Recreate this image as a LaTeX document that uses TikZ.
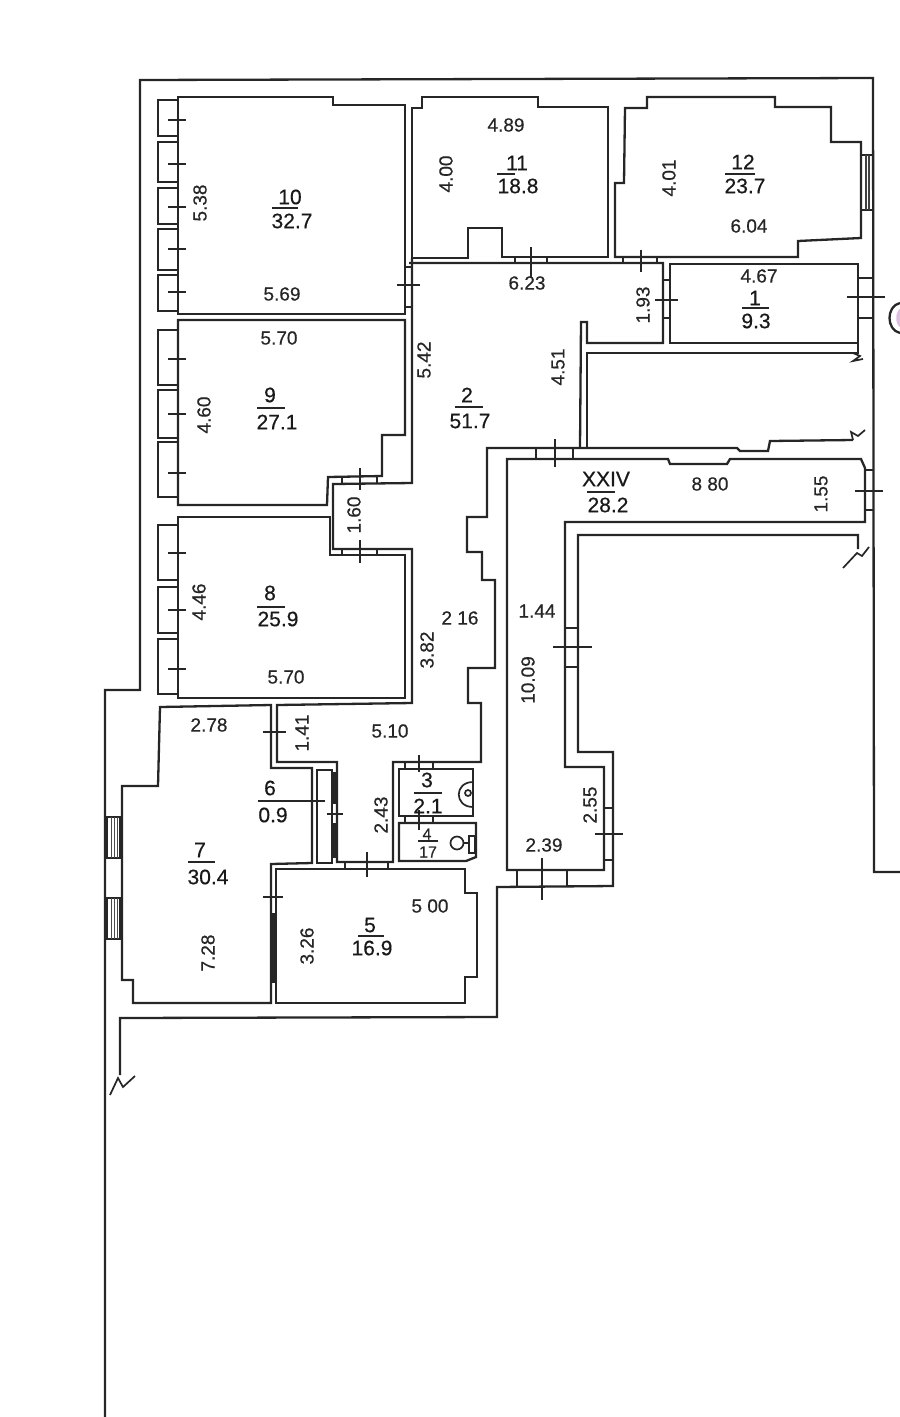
\documentclass[tikz,border=0pt]{standalone}
\usepackage{fontspec}
\setmainfont[FakeBold=0.5]{Liberation Sans}
\tikzset{
  wall/.style={line width=2.3pt, black!85, line join=miter},
  fine/.style={line width=1.7pt, black!85},
  tickmark/.style={line width=1.7pt, black!85},
  dimtxt/.style={inner sep=0pt, text=black!85, font=\fontsize{19}{21}\selectfont},
  roomtxt/.style={inner sep=0pt, text=black!90, font=\fontsize{21}{23}\selectfont},
  smalltxt/.style={inner sep=0pt, text=black!85, font=\fontsize{16}{18}\selectfont}
}
\begin{document}
\begin{tikzpicture}[x=1pt,y=-1pt]
  \useasboundingbox (0,0) rectangle (900,1417);
  % Outer walls
  \draw[wall] (105,1417) -- (105,690) -- (140,690) -- (140,80) -- (873,78) -- (874,872) -- (900,872);
  \draw[wall] (120,1075) -- (120,1018) -- (497,1017) -- (497,887) -- (613,886) -- (613,752) -- (578,752)
    -- (578,535) -- (858,535) -- (858,549);
  % Breaks
  \draw[fine] (843,568) -- (857,553) -- (862,556) -- (869,547);
  \draw[fine] (110,1095) -- (118,1078) -- (123,1087) -- (135,1076);
  \draw[fine] (853,440) -- (851,432) -- (858,436) -- (865,430);
  \draw[fine] (853,353) -- (860,356) -- (853,361) -- (863,359);
  % Rooms
  \draw[wall] (178,97) -- (333,97) -- (333,105) -- (405,105) -- (405,314) -- (178,314) -- cycle; % 10
  \draw[wall] (178,320) -- (405,320) -- (405,435) -- (382,435) -- (382,476) -- (328,477) -- (327,505) -- (178,505) -- cycle; % 9
  \draw[wall] (178,517) -- (330,517) -- (330,555) -- (405,555) -- (405,698) -- (178,698) -- cycle; % 8
  \draw[wall] (412,108) -- (422,108) -- (422,97) -- (538,97) -- (538,107) -- (608,107) -- (608,257)
    -- (502,257) -- (502,228) -- (468,228) -- (468,258) -- (412,258) -- cycle; % 11
  \draw[wall] (625,108) -- (647,108) -- (647,97) -- (775,97) -- (775,107) -- (831,107) -- (831,142) -- (861,142)
    -- (861,238) -- (798,241) -- (798,257) -- (615,257) -- (615,183) -- (624,183) -- cycle; % 12
  \draw[wall] (670,264) -- (858,264) -- (858,343) -- (670,343) -- cycle; % 1
  \draw[wall] (507,459) -- (668,459) -- (670,464) -- (727,464) -- (730,459) -- (861,459) -- (865,468) -- (865,522) -- (565,522)
    -- (565,767) -- (604,767) -- (604,870) -- (507,870) -- cycle; % XXIV
  \draw[wall] (160,707) -- (271,705) -- (271,768) -- (312,768) -- (312,863) -- (271,864) -- (271,1003) -- (133,1003)
    -- (133,980) -- (122,980) -- (122,786) -- (158,786) -- cycle; % 7
  \draw[wall] (276,869) -- (465,869) -- (465,893) -- (477,893) -- (477,977) -- (465,977) -- (465,1003) -- (276,1003) -- cycle; % 5
  \draw[wall] (399,769) -- (473,769) -- (473,816) -- (399,816) -- cycle; % 3
  \draw[wall] (399,823) -- (476,823) -- (476,857) -- (466,861) -- (399,861) -- cycle; % 4
  \draw[wall] (317,770) -- (332,770) -- (332,863) -- (317,863) -- cycle; % 6
  % Corridor 2
  \draw[wall] (412,258) -- (412,483) -- (333,484) -- (333,549) -- (412,549) -- (412,703) -- (277,705) -- (277,762)
    -- (337,762) -- (337,862) -- (393,862) -- (393,762) -- (481,762) -- (481,703) -- (468,703) -- (468,668)
    -- (495,668) -- (495,580) -- (482,580) -- (482,552) -- (467,552) -- (467,517) -- (487,517) -- (487,448)
    -- (737,448) -- (740,451) -- (768,451) -- (770,441) -- (853,440);
  \draw[wall] (409,263) -- (663,263) -- (663,343) -- (587,343) -- (587,322) -- (581,322) -- (580,448);
  \draw[wall] (587,447) -- (587,353) -- (858,353) -- (858,343);
  % Thick partitions
  \draw[line width=4.5pt, black!85] (334.5,772) -- (334.5,804) (334.5,823) -- (334.5,858);
  \draw[line width=4pt, black!85] (273.5,913) -- (273.5,983);
  % Door jambs
  \foreach \a/\b/\c in {515/257/263, 547/257/263, 623/257/263, 657/257/263, 536/448/459, 573/448/459, 342/476/484,
    377/476/484, 342/549/555, 377/549/555, 345/862/868, 388/862/868, 405/763/769, 433/763/769, 405/816/823, 433/816/823,
    517/870/887, 567/870/887}
    \draw[fine] (\a,\b) -- (\a,\c);
  \foreach \a/\b/\c in {267/405/412, 307/405/412, 280/663/670, 318/663/670, 278/858/873, 318/858/873, 470/865/873,
    510/865/873, 628/565/578, 667/565/578, 808/604/613, 860/604/613, 155/862/873, 210/862/873}
    \draw[fine] (\b,\a) -- (\c,\a);
  % Left bays
  \foreach \a/\b in {100/136, 142/182, 188/224, 229/270, 275/311, 330/385, 390/438, 442/497, 525/580, 587/633, 639/694}
    \draw[wall] (178,\a) -- (158,\a) -- (158,\b) -- (178,\b);
  % Windows
  \foreach \a/\b in {817/858, 898/939} {
    \draw[fine] (107,\a) rectangle (120,\b);
    \draw[line width=1pt, black!70] (111,\a) -- (111,\b) (114,\a) -- (114,\b) (117,\a) -- (117,\b);
  }
  \draw[line width=1.2pt, black!75] (866,155) -- (866,210) (869,155) -- (869,210);
  % Ticks on openings
  \foreach \a/\b/\c in {120/168/186, 164/168/186, 207/168/186, 249/168/186, 292/168/186, 359/168/186, 414/168/186,
    473/168/186, 553/168/186, 610/168/186, 669/168/186, 285/397/420, 300/655/678, 297/847/885, 491/855/883, 647/553/592,
    834/595/623, 732/263/286, 814/327/343, 897/263/283}
    \draw[tickmark] (\b,\a) -- (\c,\a);
  \foreach \a/\b/\c in {531/247/277, 641/250/272, 555/439/467, 360/468/490, 360/540/563, 367/852/877, 419/755/772,
    419/810/830, 542/858/900}
    \draw[tickmark] (\a,\b) -- (\a,\c);
  % Fixtures
  \draw[fine] (473,782) .. controls (454,782) and (454,807) .. (473,807);
  \draw[fine] (468,793) circle (3);
  \draw[fine] (457,843) circle (6.5);
  \draw[fine] (469,836) rectangle (475,853);
  \draw[fine] (463,843) -- (469,843);
  \fill[violet!25] (900,309) .. controls (895,312) and (895,324) .. (900,327);
  \draw[wall] (900,303) .. controls (886,306) and (886,330) .. (900,333);
  % Room labels
  \foreach \nm/\xa/\ya/\num/\xb/\yb/\area/\xl/\xr/\yl in {
    r10/290/197/10/292/221/32.7/272/298/208,
    r11/517/163/11/518/186/18.8/497/515/174,
    r12/743/162/12/745/186/23.7/725/755/174,
    r1/755/298/1/756/321/9.3/742/769/308,
    r2/467/395/2/470/421/51.7/455/483/407,
    r9/270/395/9/277/422/27.1/257/285/408,
    r8/270/593/8/278/619/25.9/257/285/607,
    rxxiv/606/479/XXIV/608/505/28.2/587/615/492,
    r6/270/788/6/273/815/0.9/258/325/801,
    r7/200/850/7/208/877/30.4/188/215/862,
    r5/370/925/5/372/948/16.9/358/384/936,
    r3/427/780/3/428/806/2.1/414/442/793}
  {
    \node[roomtxt] (num\nm) at (\xa,\ya) {\num};
    \node[roomtxt] (area\nm) at (\xb,\yb) {\area};
    \draw[tickmark] (\xl,\yl) -- (\xr,\yl);
  }
  \node[smalltxt] (numr4) at (427,834) {4};
  \node[smalltxt] (arear4) at (428,852) {17};
  \draw[tickmark] (418,841) -- (438,841);
  % Dimensions
  \foreach \x/\y/\txt [count=\i] in {282/294/5.69, 279/338/5.70, 506/125/4.89, 527/283/6.23, 749/226/6.04, 759/276/4.67,
    286/677/5.70, 460/618/2 16, 537/611/1.44, 710/484/8 80, 544/845/2.39, 209/725/2.78, 390/731/5.10, 430/906/5 00}
    \node[dimtxt] (dimh\i) at (\x,\y) {\txt};
  \foreach \x/\y/\txt [count=\i] in {200/203/5.38, 446/174/4.00, 669/178/4.01, 643/305/1.93, 424/360/5.42, 558/367/4.51,
    204/415/4.60, 354/515/1.60, 199/602/4.46, 427/650/3.82, 821/494/1.55, 528/680/10.09, 590/805/2.55, 302/733/1.41,
    381/815/2.43, 307/946/3.26, 208/953/7.28}
    \node[dimtxt, rotate=90] (dimv\i) at (\x,\y) {\txt};
\end{tikzpicture}
\end{document}
